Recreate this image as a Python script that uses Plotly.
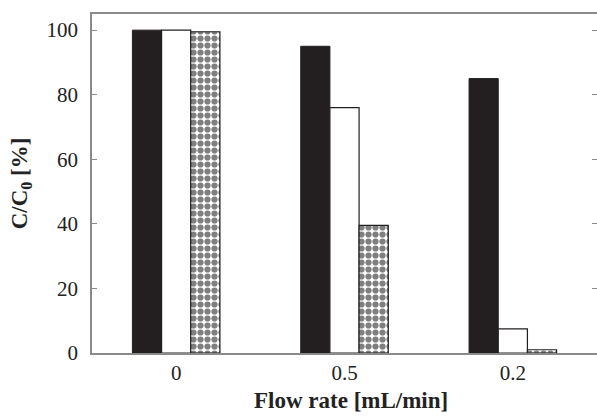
import plotly.graph_objects as go

categories = ["0", "0.5", "0.2"]
series_black = [100, 95, 85]
series_white = [100, 76, 7.5]
series_check = [99.5, 39.5, 1]
y_ticks = [0, 20, 40, 60, 80, 100]

FONT = "Liberation Serif, Times New Roman, serif"
AXC = "#8a8a8a"

fig = go.Figure()
fig.add_bar(x=categories, y=series_black, name="A",
            marker=dict(color="#231f20", line=dict(color="#231f20", width=1)))
fig.add_bar(x=categories, y=series_white, name="B",
            marker=dict(color="white", line=dict(color="#231f20", width=1.2)))
fig.add_bar(x=categories, y=series_check, name="C",
            marker=dict(color="white", line=dict(color="#231f20", width=1.2),
                        pattern=dict(shape=".", fgcolor="#000000", bgcolor="white",
                                     size=7, solidity=0.62, fillmode="overlay")))

fig.update_layout(
    width=597, height=420,
    margin=dict(l=92, r=0, t=14, b=67),
    paper_bgcolor="white", plot_bgcolor="white",
    barmode="group", bargap=0.48, bargroupgap=0,
    showlegend=False,
    font=dict(family=FONT, size=21, color="#222"),
    annotations=[dict(
        text="<b>Flow rate [mL/min]</b>", xref="paper", yref="paper",
        x=0.513, y=-0.14, xanchor="center", yanchor="middle", showarrow=False,
        font=dict(size=23, family=FONT, color="#222"),
    )],
)
fig.update_xaxes(
    type="category", showline=True, linecolor=AXC, linewidth=2, mirror=True,
    ticks="", showgrid=False, tickfont=dict(size=21, family=FONT),
    automargin=False,
)
fig.update_yaxes(
    range=[0, 105], tickvals=y_ticks, showline=True, linecolor=AXC, linewidth=1.5,
    mirror="ticks", ticks="inside", ticklen=5, tickcolor=AXC, showgrid=False,
    zeroline=False, tickfont=dict(size=21, family=FONT), ticklabelstandoff=8,
    automargin=False,
    title=dict(text="<b>C/C<sub>0</sub> [%]</b>", font=dict(size=23, family=FONT), standoff=12),
)

fig.write_html(
    "out.html",
    config={"displayModeBar": False},
    post_script="document.body.style.margin='0';document.body.style.overflow='hidden';",
)
